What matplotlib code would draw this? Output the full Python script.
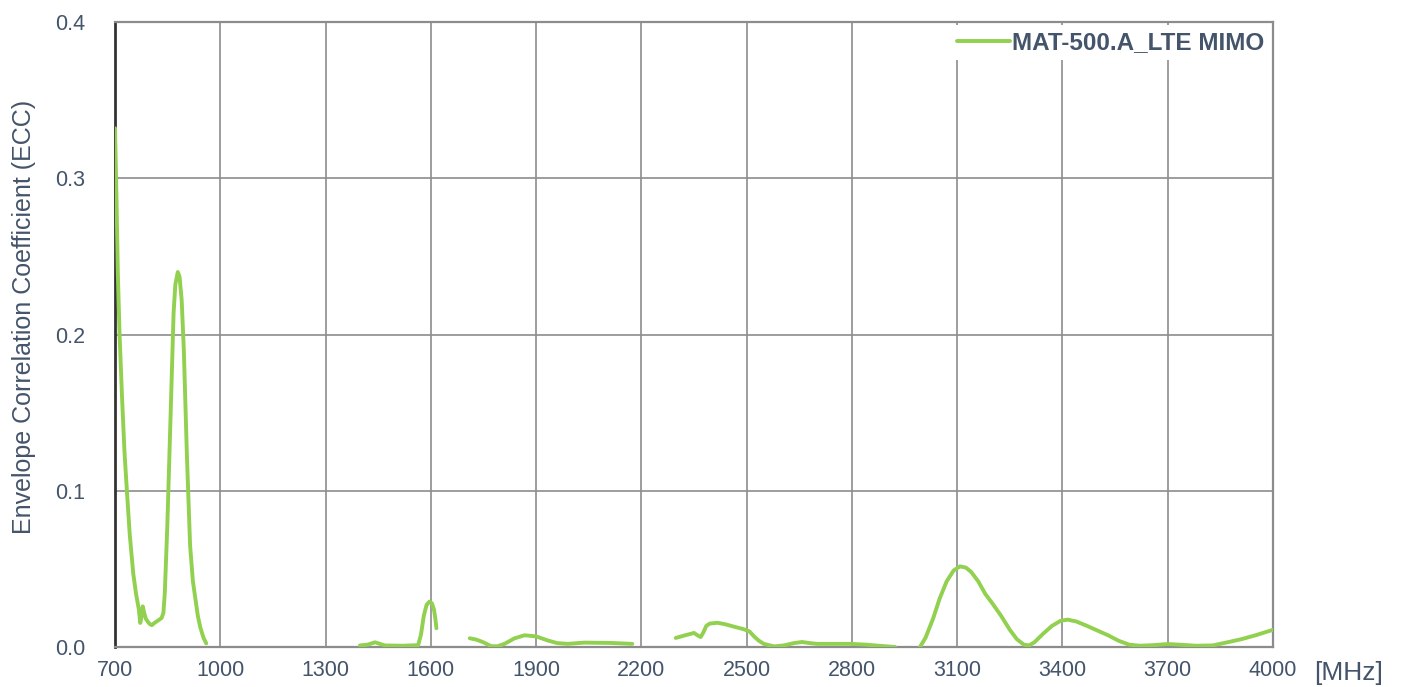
import matplotlib
matplotlib.use("Agg")
import matplotlib.pyplot as plt

plt.rcParams['font.family'] = ['Liberation Sans', 'DejaVu Sans']

# Segment data (frequency MHz, ECC)
f1 = [700, 704, 708, 713, 720, 727, 734, 742, 752, 760, 768, 772, 776, 779, 783, 788, 794, 800, 805, 813, 823, 833, 838, 842,
      849, 858, 867, 872, 879, 884, 890, 896, 905, 914, 922, 929, 936, 943, 952, 960]
e1 = [0.332, 0.290, 0.240, 0.200, 0.160, 0.125, 0.0995, 0.072, 0.047, 0.034, 0.024, 0.0154, 0.020, 0.026, 0.022, 0.018, 0.016, 0.0145, 0.014, 0.0155, 0.017, 0.0186, 0.022, 0.035,
      0.077, 0.145, 0.214, 0.232, 0.240, 0.237, 0.222, 0.191, 0.122, 0.065, 0.042, 0.031, 0.020, 0.0126, 0.006, 0.0023]

f2 = [1398, 1420, 1441, 1455, 1469, 1520, 1564, 1572, 1580, 1588, 1596, 1603, 1609, 1613, 1616]
e2 = [0.001, 0.0015, 0.003, 0.002, 0.001, 0.0008, 0.0012, 0.008, 0.020, 0.027, 0.029, 0.028, 0.024, 0.018, 0.012]

f3 = [1711, 1730, 1750, 1772, 1790, 1810, 1838, 1867, 1900, 1933, 1960, 1990, 2037, 2113, 2174]
e3 = [0.0056, 0.0047, 0.003, 0.0005, 0.0005, 0.002, 0.0055, 0.0075, 0.0068, 0.0042, 0.0025, 0.002, 0.0028, 0.0026, 0.002]

f4 = [2298, 2325, 2350, 2362, 2369, 2376, 2385, 2395, 2417, 2440, 2464, 2490, 2508, 2521, 2535, 2549, 2578, 2606, 2635, 2658,
      2680, 2701, 2795, 2840, 2871, 2923]
e4 = [0.0058, 0.0075, 0.009, 0.0072, 0.0064, 0.009, 0.0135, 0.015, 0.0155, 0.0145, 0.013, 0.0115, 0.010, 0.0068, 0.004, 0.002, 0.0004, 0.001, 0.0025, 0.0032,
      0.0025, 0.002, 0.002, 0.0015, 0.0009, 0.0]

f5 = [2994, 3010, 3032, 3050, 3070, 3090, 3108, 3125, 3140, 3160, 3180, 3200, 3225, 3250, 3270, 3290, 3305, 3320, 3345, 3370,
      3395, 3415, 3440, 3470, 3500, 3530, 3560, 3590, 3620, 3660, 3700, 3740, 3780, 3828, 3870, 3910, 3950, 4000]
e5 = [0.0, 0.006, 0.0186, 0.031, 0.042, 0.049, 0.0516, 0.0508, 0.048, 0.042, 0.034, 0.028, 0.020, 0.011, 0.005, 0.0015, 0.001, 0.003, 0.0085, 0.0135,
      0.0168, 0.0175, 0.0163, 0.0135, 0.0105, 0.0075, 0.004, 0.0015, 0.0008, 0.0012, 0.0019, 0.0014, 0.0008, 0.001, 0.003, 0.005, 0.0075, 0.011]

segments = [(f1, e1), (f2, e2), (f3, e3), (f4, e4), (f5, e5)]

x_ticks = [700, 1000, 1300, 1600, 1900, 2200, 2500, 2800, 3100, 3400, 3700, 4000]
y_ticks = [0.0, 0.1, 0.2, 0.3, 0.4]
series_name = "MAT-500.A_LTE MIMO"

line_color = '#92D050'
text_color = '#44546A'
grid_color = '#8C8C8C'

W, H = 1408, 687
fig = plt.figure(figsize=(W/100, H/100), dpi=100)
ax_l, ax_r, ax_t, ax_b = 115, 1273, 22, 647
ax = fig.add_axes([ax_l/W, 1-ax_b/H, (ax_r-ax_l)/W, (ax_b-ax_t)/H])

for i, (f, e) in enumerate(segments):
    ax.plot(f, e, color=line_color, lw=2.8, solid_capstyle='round', solid_joinstyle='round',
            label=series_name if i == 0 else None, zorder=3)

ax.set_xlim(700, 4000)
ax.set_ylim(0, 0.4)
ax.set_xticks(x_ticks)
ax.set_yticks(y_ticks)
ax.set_xticklabels([str(v) for v in x_ticks])
ax.set_yticklabels([f"{v:.1f}" for v in y_ticks])
ax.grid(True, color=grid_color, lw=1.2, zorder=1)
ax.set_axisbelow(True)

ax.tick_params(axis='both', colors=text_color, labelsize=15.5, length=0)
ax.tick_params(axis='y', pad=21.5)
ax.tick_params(axis='x', pad=9)

for side in ['top', 'right', 'bottom']:
    ax.spines[side].set_color(grid_color)
    ax.spines[side].set_linewidth(1.6)
ax.spines['left'].set_color('#333333')
ax.spines['left'].set_linewidth(2.0)

fig.text(24/W, 1-317/H, "Envelope Correlation Coefficient (ECC)", color=text_color,
         fontsize=18, rotation=90, ha='center', va='center')
fig.text(1349/W, 1-673/H, "[MHz]", color=text_color, fontsize=19, ha='center', va='center')

# legend anchored just inside the top-right corner so the frame lines stay visible
anchor_x = 1 - 3/(ax_r-ax_l)
anchor_y = 1 - 3/(ax_b-ax_t)
leg = ax.legend(loc='upper right', bbox_to_anchor=(anchor_x, anchor_y), frameon=True, fancybox=False,
                borderaxespad=0.0, handlelength=2.15, handletextpad=0.08, borderpad=0.25,
                prop={'weight': 'bold', 'size': 17.5})
leg.get_frame().set_facecolor('white')
leg.get_frame().set_edgecolor('white')
leg.get_frame().set_linewidth(0)
leg.get_frame().set_alpha(1.0)
for t in leg.get_texts():
    t.set_color(text_color)

fig.savefig("out.png", dpi=100)
